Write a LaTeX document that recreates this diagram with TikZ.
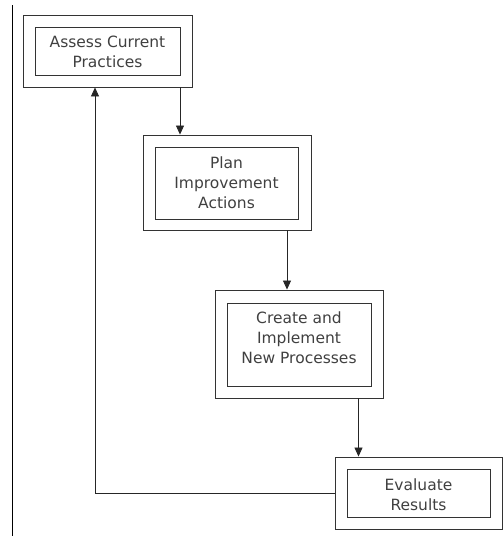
\documentclass[tikz,border=0pt]{standalone}
\usepackage{fontspec}
\setmainfont{DejaVu Sans}
\usetikzlibrary{arrows.meta}
\begin{document}
\begin{tikzpicture}[x=1pt,y=-1pt,
  outerbox/.style={draw=black!80,line width=0.9pt,inner sep=0pt},
  innerbox/.style={draw=black!80,line width=0.8pt,inner sep=0pt},
  caption/.style={inner sep=0pt,align=center,text=black!75,
    font=\fontsize{15.5}{20}\selectfont},
  link/.style={draw=black!85,line width=0.8pt,-{Triangle[length=9pt,width=8pt]}}]
\useasboundingbox (0,0) rectangle (503,539);
% margin rule on the left
\draw[line width=1pt] (12,5) -- (12,536);
% step boxes: a double frame around each caption
\node[outerbox,minimum width=169pt,minimum height=72pt] (o1) at (107.5,51) {};
\node[innerbox,minimum width=145pt,minimum height=48pt] (i1) at (107.5,51) {};
\node[caption] (t1) at (107.5,52) {Assess Current\\Practices};
\node[outerbox,minimum width=168pt,minimum height=95pt] (o2) at (227,182.5) {};
\node[innerbox,minimum width=143pt,minimum height=72pt] (i2) at (226.5,183) {};
\node[caption] (t2) at (226.5,183) {Plan\\Improvement\\Actions};
\node[outerbox,minimum width=168pt,minimum height=108pt] (o3) at (299,344) {};
\node[innerbox,minimum width=144pt,minimum height=83pt] (i3) at (299,344.5) {};
\node[caption] (t3) at (299,338) {Create and\\Implement\\New Processes};
\node[outerbox,minimum width=167pt,minimum height=72pt] (o4) at (418.5,493) {};
\node[innerbox,minimum width=143pt,minimum height=48pt] (i4) at (418.5,493) {};
\node[caption] (t4) at (418.5,495) {Evaluate\\Results};
% columns of the connectors
\coordinate (c1) at (180,0);
\coordinate (c2) at (287,0);
\coordinate (c3) at (358.5,0);
\coordinate (c4) at (95,0);
\draw[link] (o1.south -| c1) -- (o2.north -| c1);
\draw[link] (o2.south -| c2) -- (o3.north -| c2);
\draw[link] (o3.south -| c3) -- (o4.north -| c3);
\draw[link] (o4.west) -- (o4.west -| c4) -- (o1.south -| c4);
\end{tikzpicture}
\end{document}
